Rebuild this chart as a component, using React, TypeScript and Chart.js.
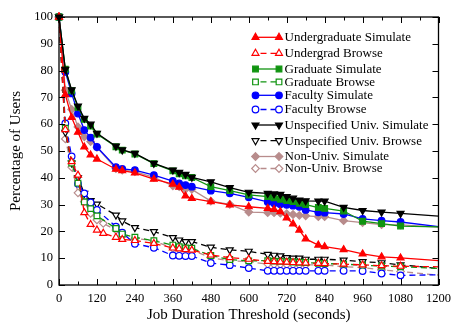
import { useEffect, useRef } from 'react';
import { Chart, registerables } from 'chart.js';

Chart.register(...registerables);

// Job duration thresholds (seconds)
const durations = [0, 20, 40, 60, 80, 100, 120, 140, 180, 200, 240, 300, 360, 380, 400, 420, 480, 540, 600, 660, 680, 700, 720, 740, 760, 780, 820, 840, 900, 960, 1020, 1080, 1200];

const undergradSimulate = [100, 71, 62.5, 57, 51.5, 48.5, 47, null, 43.2, 42.7, 41.8, 39.5, 37.6, 36.5, 33.2, 32.3, 31.1, 29.9, 29.2, 28.6, 28.2, 27.4, 25, 22.8, 20.5, 17.2, 14.9, 14.3, 13.2, 11.6, 10.5, 10.1, 9.1];
const undergradBrowse = [100, 58, 46, 41, 27, 22.6, 20.5, 19.3, 17.8, 17, 16.6, 15.5, 13.8, 13.5, 13.2, 13, 11.2, 10.2, 9.6, 8.8, 8.7, 8.6, 8.5, 8.4, 8.3, 8.2, 8.1, 8, 7.8, 7.5, 7.2, 7, 6.8];
const graduateSimulate = [100, 80.5, 72.5, 66.3, 61.8, 59.3, 56.3, null, 51.6, 50.3, 48.9, 45.3, 42.6, 41.5, 40.7, 40.1, 36.7, 35.2, 33.6, 33, 32.5, 32, 31.5, 31.1, 30.5, 30, 28.9, 28.6, 27.6, 23.8, 22.9, 22, 21.7];
const graduateBrowse = [100, 58.5, 45.5, 38, 31, 28.5, 25.8, null, 21.1, 19, 17.8, 16.5, 14.9, 14.3, 13.8, 13.7, 11, 9.5, 9, 9.1, 8.9, 8.8, 8.7, 8.6, 8.5, 8.4, 8.1, 8, 7.8, 7.4, 7.1, 6.8, 6.2];
const facultySimulate = [100, 79.5, 71.5, 64, 57.8, 55, 51.5, null, 44, 43.3, 42.9, 41, 38.8, 37.9, 37.3, 36.7, 35.2, 34.2, 32.7, 31, 30.5, 30.1, 29.9, 29.6, 29.2, 28, 27.1, 27, 26.5, 24.7, 24, 23.5, 21.8];
const facultyBrowse = [100, 60.3, 48, 37.8, 34.2, 30.8, 28, null, 21.8, 19.5, 15.4, 13.9, 11, 10.9, 10.8, 10.8, 8.2, 7.4, 6.3, 5.3, 5.3, 5.3, 5.3, 5.3, 5.3, 5.3, 5.3, 5.3, 5.3, 5.2, 4.3, 3.6, 3.8];
const unspecifiedSimulate = [100, 80.5, 72.8, 66.8, 62.2, 60, 56.6, null, 51.8, 50.4, 49.1, 45.4, 42.9, 42, 41.3, 40.2, 38.5, 36.3, 34.6, 34.2, 34, 33.8, 33, 32.4, 31.7, 31.4, 31.3, 31.3, 29, 27.8, 27.2, 26.7, 25.7];
const unspecifiedBrowse = [100, 57, 45.5, 40, 34.2, 31.5, 30.2, null, 26.1, 23.9, 21.4, 19.9, 17.7, 16.8, 16.2, 16.2, 14.1, 13.1, 12.6, 11.4, 11.1, 10.9, 10.2, 10, 10, 9.6, 9.6, 9.6, 9.3, 8.7, 8.3, 7.5, 6.2];
const nonUnivSimulate = [100, 72.7, 65.5, 59, 55.3, 53.5, 51.4, null, 43.4, 42.9, 42.3, 40.2, 37, 36.7, 35.7, 35.7, 31.3, 30.1, 27.2, 27, 27, 26.8, 26.6, 26.3, 26, 25.8, 25.5, 25.5, 24, 23.3, 22.5, 22.4, 21.6];
const nonUnivBrowse = [100, 54.5, 44, 34.4, 31.1, 26.7, 24.3, 23, 20.5, 18.3, 17.4, 16.5, 13.7, 13.3, 13.3, 13.1, 10.2, 9, 8.7, 7.8, 7.7, 7.7, 7.6, 7.6, 7.5, 7.5, 7.5, 7.5, 6.8, 6.5, 5.6, 5, 3.7];

const seriesLabels = [
  'Undergraduate Simulate',
  'Undergrad Browse',
  'Graduate Simulate',
  'Graduate Browse',
  'Faculty Simulate',
  'Faculty Browse',
  'Unspecified Univ. Simulate',
  'Unspecified Univ. Browse',
  'Non-Univ. Simulate',
  'Non-Univ. Browse',
];
const seriesValues = [
  undergradSimulate, undergradBrowse,
  graduateSimulate, graduateBrowse,
  facultySimulate, facultyBrowse,
  unspecifiedSimulate, unspecifiedBrowse,
  nonUnivSimulate, nonUnivBrowse,
];

const xMax = 1200;
const yMax = 100;

type Look = { color: string; shape: string; rot: number; filled: boolean; dashed: boolean; r: number; order: number };
const RED = '#ff0000';
const GREEN = '#109410';
const BLUE = '#0000ff';
const BLACK = '#000000';
const BROWN = '#b88c8c';
const looks: Look[] = [
  { color: RED, shape: 'triangle', rot: 0, filled: true, dashed: false, r: 4, order: 0 },
  { color: RED, shape: 'triangle', rot: 0, filled: false, dashed: true, r: 4, order: 0 },
  { color: GREEN, shape: 'rect', rot: 0, filled: true, dashed: false, r: 4, order: 0 },
  { color: GREEN, shape: 'rect', rot: 0, filled: false, dashed: true, r: 4, order: 0 },
  { color: BLUE, shape: 'circle', rot: 0, filled: true, dashed: false, r: 3.3, order: 0 },
  { color: BLUE, shape: 'circle', rot: 0, filled: false, dashed: true, r: 3.3, order: 0 },
  { color: BLACK, shape: 'triangle', rot: 180, filled: true, dashed: false, r: 4, order: -1 },
  { color: BLACK, shape: 'triangle', rot: 180, filled: false, dashed: true, r: 4, order: 0 },
  { color: BROWN, shape: 'rectRot', rot: 0, filled: true, dashed: false, r: 3.8, order: 0 },
  { color: BROWN, shape: 'rectRot', rot: 0, filled: false, dashed: true, r: 3.8, order: 0 },
];

function drawMarker(ctx: CanvasRenderingContext2D, look: Look, x: number, y: number) {
  const r = look.r;
  ctx.beginPath();
  if (look.shape === 'circle') {
    ctx.arc(x, y, r, 0, Math.PI * 2);
  } else if (look.shape === 'triangle') {
    let rad = (look.rot * Math.PI) / 180;
    for (let k = 0; k < 3; k++) {
      const px = x + Math.sin(rad) * r;
      const py = y - Math.cos(rad) * r;
      if (k === 0) ctx.moveTo(px, py); else ctx.lineTo(px, py);
      rad += (2 * Math.PI) / 3;
    }
    ctx.closePath();
  } else if (look.shape === 'rect') {
    const s = r * Math.SQRT1_2;
    ctx.rect(x - s, y - s, 2 * s, 2 * s);
  } else {
    ctx.moveTo(x, y - r);
    ctx.lineTo(x + r, y);
    ctx.lineTo(x, y + r);
    ctx.lineTo(x - r, y);
    ctx.closePath();
  }
  ctx.fillStyle = look.filled ? look.color : '#ffffff';
  ctx.fill();
  ctx.strokeStyle = look.color;
  ctx.lineWidth = 1.2;
  ctx.setLineDash([]);
  ctx.stroke();
}

const legendRows = [37.3, 53.3, 69, 81.9, 95.3, 109.5, 125, 140.7, 156.5, 168.5];

const framePlugin = {
  id: 'frameAndLegend',
  afterDraw(chart: any) {
    const { ctx, chartArea: a, scales } = chart;
    const x = scales.x;
    const y = scales.y;
    ctx.save();
    ctx.strokeStyle = '#000';
    ctx.lineWidth = 1.3;
    ctx.setLineDash([]);
    ctx.strokeRect(a.left, a.top, a.right - a.left, a.bottom - a.top);
    ctx.lineWidth = 1;
    ctx.beginPath();
    for (let v = 0; v <= xMax; v += 60) {
      const px = Math.round(x.getPixelForValue(v)) + 0.5;
      const len = v % 120 === 0 ? 6 : 3.5;
      ctx.moveTo(px, a.bottom);
      ctx.lineTo(px, a.bottom - len);
      ctx.moveTo(px, a.top);
      ctx.lineTo(px, a.top + len);
    }
    for (let v = 0; v <= yMax; v += 10) {
      const py = Math.round(y.getPixelForValue(v)) + 0.5;
      ctx.moveTo(a.left, py);
      ctx.lineTo(a.left + 6, py);
      ctx.moveTo(a.right, py);
      ctx.lineTo(a.right - 6, py);
    }
    ctx.stroke();

    // legend
    const x1 = 255.5;
    const x2 = 279;
    ctx.font = '13px "Liberation Serif", serif';
    ctx.textBaseline = 'middle';
    ctx.textAlign = 'left';
    chart.data.datasets.forEach((ds: any, i: number) => {
      const look = looks[i];
      const ly = legendRows[i];
      ctx.beginPath();
      ctx.strokeStyle = look.color;
      ctx.lineWidth = 1.3;
      ctx.setLineDash(look.dashed ? [6, 4] : []);
      ctx.lineDashOffset = look.dashed ? -5 : 0;
      ctx.moveTo(x1, ly);
      ctx.lineTo(x2, ly);
      ctx.stroke();
      ctx.setLineDash([]);
      drawMarker(ctx, look, x1, ly);
      drawMarker(ctx, look, x2, ly);
      ctx.fillStyle = '#000';
      ctx.fillText(ds.label, 284.5, ly + 0.5);
    });
    ctx.restore();
  },
};

export default function App() {
  const ref = useRef<HTMLCanvasElement | null>(null);
  useEffect(() => {
    if (!ref.current) return;
    Chart.defaults.font.family = '"Liberation Serif", "Times New Roman", serif';
    Chart.defaults.color = '#000';
    const last = durations.length - 1;
    const datasets = seriesValues.map((vals, i) => {
      const look = looks[i];
      return {
        label: seriesLabels[i],
        data: durations.map((d, j) => ({ x: d, y: vals[j] })),
        order: look.order,
        borderColor: look.color,
        backgroundColor: look.filled ? look.color : '#ffffff',
        borderWidth: 1.3,
        borderDash: look.dashed ? [6, 4] : [],
        pointStyle: look.shape,
        pointRotation: look.rot,
        pointRadius: (c: any) => (c.dataIndex === last ? 0 : look.r),
        pointBorderWidth: 1.2,
        pointBorderColor: look.color,
        pointBackgroundColor: look.filled ? look.color : '#ffffff',
        tension: 0,
        spanGaps: true,
        clip: 8,
      };
    });
    const chart = new Chart(ref.current, {
      type: 'line',
      data: { datasets },
      options: {
        animation: false,
        responsive: false,
        devicePixelRatio: 1,
        layout: { padding: { left: 0, right: 15, top: 17, bottom: 0 } },
        plugins: { legend: { display: false }, tooltip: { enabled: false } },
        scales: {
          x: {
            type: 'linear',
            min: 0,
            max: xMax,
            grid: { display: false, drawTicks: false },
            border: { display: false },
            ticks: {
              stepSize: 120,
              padding: 6,
              font: { size: 12.5 },
              maxRotation: 0,
              autoSkip: false,
              callback: (v: any) => String(v),
            },
            title: { display: true, text: 'Job Duration Threshold (seconds)', font: { size: 15 }, padding: 0 },
            afterFit: (s: any) => { s.height = 39; },
          },
          y: {
            type: 'linear',
            min: 0,
            max: yMax,
            grid: { display: false, drawTicks: false },
            border: { display: false },
            ticks: { stepSize: 10, padding: 6, font: { size: 12.5 }, callback: (v: any) => String(v) },
            title: { display: true, text: 'Percentage of Users', font: { size: 15 }, padding: 7 },
            afterFit: (s: any) => { s.width = 59; },
          },
        },
      },
      plugins: [framePlugin],
    });
    return () => chart.destroy();
  }, []);
  return (
    <div style={{ position: 'fixed', left: 0, top: 0, width: 457, height: 324, background: '#fff' }}>
      <canvas ref={ref} width={457} height={324} style={{ width: 457, height: 324, display: 'block' }} />
    </div>
  );
}
